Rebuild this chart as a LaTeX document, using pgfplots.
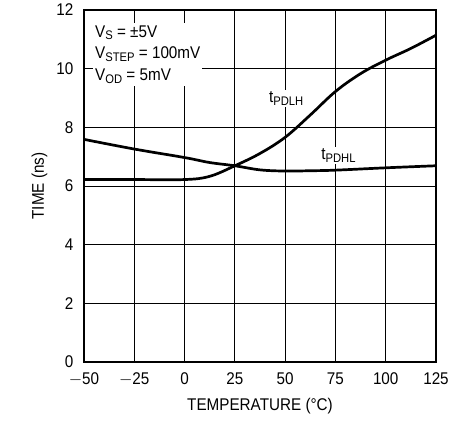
\documentclass[border=0pt]{standalone}
\usepackage{fontspec}
\setmainfont{Liberation Sans}[FakeStretch=0.9]
\usepackage{pgfplots}
\pgfplotsset{compat=1.18}
\newcommand\sub[1]{\raisebox{-0.3ex}{\fontsize{12.5}{12.5}\selectfont #1}}
\begin{document}
\fontsize{17}{22}\selectfont
\begin{tikzpicture}
\begin{axis}[
    scale only axis,
    width=352bp, height=352bp,
    xmin=-50, xmax=125,
    ymin=0, ymax=12,
    xtick={-50,-25,0,25,50,75,100,125},
    ytick={0,2,4,6,8,10,12},
    xticklabels={$-$50,$-$25,0,25,50,75,100,125},
    /pgf/number format/assume math mode=true,
    tick label style={font=\fontsize{17}{20}\selectfont, inner sep=1bp},
    label style={font=\fontsize{17}{20}\selectfont},
    grid=major,
    major grid style={black, line width=0.9bp},
    major tick length=0pt,
    axis line style={black, line width=1.4bp},
    xlabel={TEMPERATURE (\textdegree C)},
    ylabel={TIME (ns)},
    xticklabel style={yshift=-9.5bp},
    yticklabel style={xshift=-9.5bp},
    xlabel style={yshift=-5bp},
    ylabel style={yshift=2bp},
    clip=false,
]
% t_PDLH
\addplot[black, line width=2.7bp, smooth, tension=0.6] coordinates {
    (-50,6.22) (-25,6.22) (0,6.22) (12.5,6.33) (25,6.69) (37.5,7.11)
    (50,7.66) (62.5,8.42) (75,9.22) (87.5,9.83) (100,10.29)
    (112.5,10.69) (125,11.14)
};
% t_PDHL
\addplot[black, line width=2.7bp, smooth, tension=0.6] coordinates {
    (-50,7.59) (-25,7.26) (0,6.97) (12.5,6.8) (25,6.69) (37.5,6.55)
    (50,6.51) (62.5,6.52) (75,6.54) (100,6.62) (125,6.69)
};
\node[fill=white, align=left, anchor=north west, inner sep=2bp, font=\fontsize{17}{22}\selectfont]
    at (axis cs:-45.5,11.55)
    {V\sub{S} = \textpm 5V\\V\sub{STEP} = 100mV\\V\sub{OD} = 5mV};
\node[fill=white, inner sep=2bp] at (axis cs:50.5,8.98) {t\sub{PDLH}};
\node[fill=white, inner sep=2bp] at (axis cs:76.5,7.04) {t\sub{PDHL}};
\coordinate (bl) at (rel axis cs:-0.2386,-0.1676);
\coordinate (tr) at (rel axis cs:1.0852,1.0284);
\end{axis}
\pgfresetboundingbox
\useasboundingbox (bl) rectangle (tr);
\end{tikzpicture}
\end{document}
